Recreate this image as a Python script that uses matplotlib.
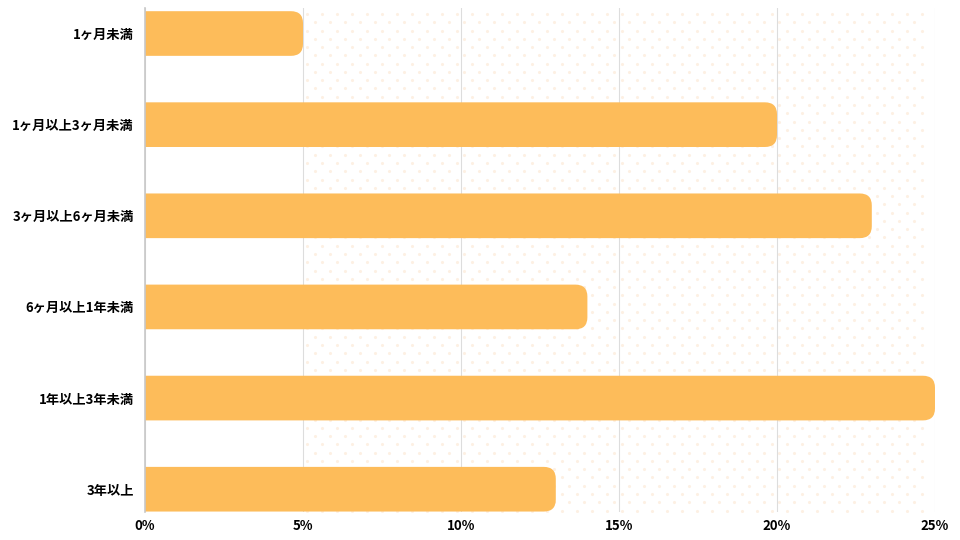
import numpy as np
import matplotlib
matplotlib.use("Agg")
import matplotlib.pyplot as plt
from matplotlib.patches import PathPatch
from matplotlib.path import Path

plt.rcParams['font.family'] = ['Noto Sans CJK JP', 'DejaVu Sans']

# データ
categories = ['1ヶ月未満', '1ヶ月以上3ヶ月未満', '3ヶ月以上6ヶ月未満',
              '6ヶ月以上1年未満', '1年以上3年未満', '3年以上']
values = [5, 20, 23, 14, 25, 13]
xticks = [0, 5, 10, 15, 20, 25]
xticklabels = ['0%', '5%', '10%', '15%', '20%', '25%']

bar_color = '#FDBC5A'

fig = plt.figure(figsize=(9.6, 5.4), dpi=100)
ax = fig.add_axes([145 / 960, 1 - 512 / 540, 790 / 960, 504 / 540])

ax.set_xlim(0, 25)
ax.set_ylim(5.25, -0.28)

# 背景のドット模様 (5%〜25%)
px_x = 25 / 790
px_y = 1 / 91.4
rows = np.arange(-0.28 + 6 * px_y, 5.25, 8.3 * px_y)
dx, dy = [], []
for i, yy in enumerate(rows):
    off = 0 if i % 2 == 0 else 7.5
    xs = np.arange(5 + (4 + off) * px_x, 25 - 6 * px_x, 15 * px_x)
    dx.extend(xs)
    dy.extend([yy] * len(xs))
ax.scatter(dx, dy, s=5, color='#FDF0E3', linewidths=0, zorder=0.3)


def round_bar(y, v, h, rx, ry):
    y0, y1 = y - h / 2, y + h / 2
    verts = [(0, y0), (v - rx, y0), (v, y0), (v, y0 + ry),
             (v, y1 - ry), (v, y1), (v - rx, y1), (0, y1), (0, y0)]
    codes = [Path.MOVETO, Path.LINETO, Path.CURVE3, Path.CURVE3,
             Path.LINETO, Path.CURVE3, Path.CURVE3, Path.LINETO, Path.CLOSEPOLY]
    return Path(verts, codes)


# 棒 (右端を丸く)
h = 0.49
r_x = 12 * px_x
r_y = 12 * px_y
for i, v in enumerate(values):
    ax.add_patch(PathPatch(round_bar(i, v, h, r_x, r_y),
                           fc=bar_color, ec='none', zorder=2))

ax.set_yticks(range(len(categories)))
ax.set_yticklabels(categories, fontsize=9.5, fontweight='bold')
ax.set_xticks(xticks)
ax.set_xticklabels(xticklabels, fontsize=9.5, fontweight='bold')
ax.tick_params(length=0, pad=8)
ax.tick_params(axis='x', pad=5)

ax.grid(axis='x', color='#DDDDDD', linewidth=0.8, zorder=0.5)
ax.set_axisbelow(True)
for s in ['top', 'right', 'bottom']:
    ax.spines[s].set_visible(False)
ax.spines['left'].set_color('#C8C8C8')
ax.spines['left'].set_linewidth(1.2)

fig.savefig('out.png', dpi=100)
